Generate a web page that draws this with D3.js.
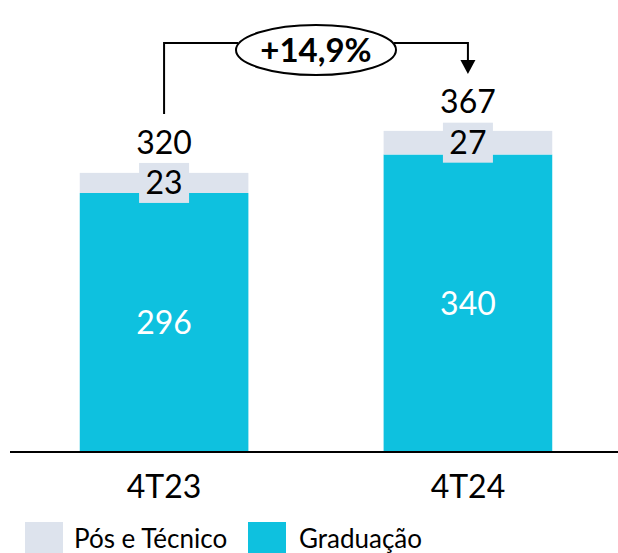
<!DOCTYPE html>
<html>
<head>
	<meta charset="utf-8">
	<title>Alunos 4T23 x 4T24</title>
	<script src="https://d3js.org/d3.v7.min.js"></script>
	<style>
		body { margin: 0; padding: 0; background: #fff; }
		svg { display: block; font-family: Lato, "Open Sans", sans-serif; }
	</style>
</head>
<body>
	<div id="graph"></div>
	<script>
		// chart data
		var categories = ["4T23", "4T24"];
		var graduacao = [296, 340];
		var posTecnico = [23, 27];
		var totals = [320, 367];
		var growthLabel = "+14,9%";
		var seriesNames = ["Pós e Técnico", "Graduação"];

		var width = 618, height = 553;
		var colGrad = "#0ec1df", colPos = "#dde3ed";

		var svg = d3.select("#graph").append("svg")
			.attr("width", width)
			.attr("height", height);

		// rows for d3.stack
		var rows = categories.map(function (c, i) {
			return { cat: c, grad: graduacao[i], pos: posTecnico[i], total: totals[i] };
		});
		var stack = d3.stack().keys(["grad", "pos"]);
		var layers = stack(rows);

		var x = d3.scaleBand().domain(categories).range([12, 620])
			.paddingInner(0.445).paddingOuter(0.223);
		var y = d3.scaleLinear().domain([0, 400]).range([452, 102]);

		var colors = { grad: colGrad, pos: colPos };

		// bars
		svg.selectAll(".layer")
			.data(layers)
			.enter().append("g")
			.attr("fill", function (d) { return colors[d.key]; })
			.selectAll("rect")
			.data(function (d) { return d; })
			.enter().append("rect")
			.attr("x", function (d) { return x(d.data.cat); })
			.attr("y", function (d) { return y(d[1]); })
			.attr("width", x.bandwidth())
			.attr("height", function (d) { return y(d[0]) - y(d[1]); });

		// axis line
		svg.append("line")
			.attr("x1", 10).attr("x2", width)
			.attr("y1", y(0)).attr("y2", y(0))
			.attr("stroke", "#000").attr("stroke-width", 2);

		// graduacao labels (white, inside)
		svg.selectAll(".gradLabel")
			.data(layers[0])
			.enter().append("text")
			.attr("x", function (d) { return x(d.data.cat) + x.bandwidth() / 2; })
			.attr("y", function (d) { return (y(d[0]) + y(d[1])) / 2; })
			.attr("dy", "0.36em")
			.attr("text-anchor", "middle")
			.attr("fill", "#fff")
			.attr("font-size", 32)
			.text(function (d) { return d.data.grad; });

		// pos labels with box
		var posG = svg.selectAll(".posLabel")
			.data(layers[1])
			.enter().append("g")
			.attr("transform", function (d) {
				return "translate(" + (x(d.data.cat) + x.bandwidth() / 2) + "," + ((y(d[0]) + y(d[1])) / 2) + ")";
			});
		posG.append("rect")
			.attr("x", -25).attr("y", -20)
			.attr("width", 50).attr("height", 40)
			.attr("fill", colPos);
		posG.append("text")
			.attr("text-anchor", "middle")
			.attr("dy", "0.36em")
			.attr("font-size", 32)
			.attr("fill", "#000")
			.text(function (d) { return d.data.pos; });

		// totals
		svg.selectAll(".totLabel")
			.data(rows)
			.enter().append("text")
			.attr("x", function (d) { return x(d.cat) + x.bandwidth() / 2; })
			.attr("y", function (d) { return y(d.total) - 18; })
			.attr("text-anchor", "middle")
			.attr("font-size", 32)
			.attr("fill", "#000")
			.text(function (d) { return d.total; });

		// category labels
		svg.selectAll(".catLabel")
			.data(categories)
			.enter().append("text")
			.attr("x", function (d) { return x(d) + x.bandwidth() / 2; })
			.attr("y", 498)
			.attr("text-anchor", "middle")
			.attr("font-size", 32)
			.attr("fill", "#000")
			.text(function (d) { return d; });

		// growth bracket
		var x1 = x(categories[0]) + x.bandwidth() / 2;
		var x2 = x(categories[1]) + x.bandwidth() / 2;
		var yTop = 43;
		var yLeft = y(totals[0]) - 58;
		var yTip = y(totals[1]) - 57;
		var ex = (x1 + x2) / 2, ey = 50, rx = 80, ry = 25;

		svg.append("path")
			.attr("d", "M" + x1 + "," + yLeft + "V" + yTop + "H" + (ex - rx + 2))
			.attr("fill", "none").attr("stroke", "#000").attr("stroke-width", 2);
		svg.append("path")
			.attr("d", "M" + (ex + rx - 2) + "," + yTop + "H" + x2 + "V" + (yTip - 12))
			.attr("fill", "none").attr("stroke", "#000").attr("stroke-width", 2);
		svg.append("path")
			.attr("d", "M" + (x2 - 7.5) + "," + (yTip - 14) + "L" + (x2 + 7.5) + "," + (yTip - 14) + "L" + x2 + "," + yTip + "Z")
			.attr("fill", "#000");
		svg.append("ellipse")
			.attr("cx", ex).attr("cy", ey).attr("rx", rx).attr("ry", ry)
			.attr("fill", "#fff").attr("stroke", "#000").attr("stroke-width", 2);
		svg.append("text")
			.attr("x", ex).attr("y", ey)
			.attr("dy", "0.36em")
			.attr("text-anchor", "middle")
			.attr("font-size", 33)
			.attr("font-weight", "bold")
			.attr("fill", "#000")
			.text(growthLabel);

		// legend
		var leg = svg.append("g").attr("transform", "translate(0,522)");
		var legItems = [
			{ name: seriesNames[0], color: colPos, x: 25, tx: 74 },
			{ name: seriesNames[1], color: colGrad, x: 248, tx: 299 }
		];
		leg.selectAll("rect")
			.data(legItems)
			.enter().append("rect")
			.attr("x", function (d) { return d.x; })
			.attr("y", 0)
			.attr("width", 38).attr("height", 38)
			.attr("fill", function (d) { return d.color; });
		leg.selectAll("text")
			.data(legItems)
			.enter().append("text")
			.attr("x", function (d) { return d.tx; })
			.attr("y", 26)
			.attr("font-size", 26)
			.attr("fill", "#000")
			.text(function (d) { return d.name; });
	</script>
</body>
</html>
